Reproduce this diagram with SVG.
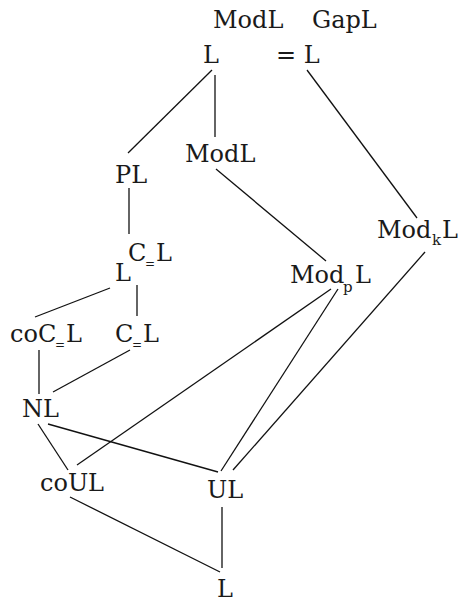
<svg xmlns="http://www.w3.org/2000/svg" width="458" height="604" viewBox="0 0 458 604">
<style>
.t text{font-size:24px;fill:#1a1a1a}
.t .s{font-size:15px}
.t .eq{font-size:12px}
#edges line{stroke:#111;stroke-width:1.3}
</style>
<rect width="458" height="604" fill="#fff"/>
<g id="edges">
<line x1="212" y1="70" x2="128" y2="153"/>
<line x1="215" y1="75" x2="215" y2="137"/>
<line x1="307" y1="70" x2="417" y2="218"/>
<line x1="216" y1="169" x2="326" y2="261"/>
<line x1="129" y1="188" x2="129" y2="234"/>
<line x1="110" y1="288" x2="35" y2="317"/>
<line x1="137" y1="285" x2="137" y2="316"/>
<line x1="39" y1="350" x2="39" y2="394"/>
<line x1="130" y1="350" x2="53" y2="392"/>
<line x1="331" y1="289" x2="77" y2="465"/>
<line x1="338" y1="289" x2="221" y2="471"/>
<line x1="425" y1="252" x2="233" y2="470"/>
<line x1="48" y1="424" x2="218" y2="472"/>
<line x1="38" y1="424" x2="68" y2="470"/>
<line x1="70" y1="497" x2="220" y2="572"/>
<line x1="222" y1="507" x2="222" y2="568"/>
</g>
<g class="t" font-family="'DejaVu Serif', 'Liberation Serif', serif">
<g id="labelModL"><text x="213" y="28">ModL</text></g>
<g id="labelGapL"><text x="312" y="28">GapL</text></g>
<g id="topL"><text x="203" y="63">L</text></g>
<g id="eqL"><text x="276" y="63">= L</text></g>
<g id="PL"><text x="115" y="183">PL</text></g>
<g id="ModL"><text x="185" y="162">ModL</text></g>
<g id="ModkL"><text x="377" y="238">Mod</text><text class="s" x="432" y="245">k</text><text x="442" y="238">L</text></g>
<g id="LC"><text x="115" y="281">L</text><text x="128" y="261">C<tspan class="eq" x="145" y="268">=</tspan><tspan x="156" y="261">L</tspan></text></g>
<g id="ModpL"><text x="290" y="283">Mod</text><text class="s" x="343" y="292">p</text><text x="355" y="283">L</text></g>
<g id="coCL"><text x="10" y="342">coC<tspan class="eq" x="55" y="349">=</tspan><tspan x="66" y="342">L</tspan></text></g>
<g id="CL"><text x="115" y="342">C<tspan class="eq" x="132" y="349">=</tspan><tspan x="143" y="342">L</tspan></text></g>
<g id="NL"><text x="22" y="417">NL</text></g>
<g id="coUL"><text x="40" y="491">coUL</text></g>
<g id="UL"><text x="207" y="498">UL</text></g>
<g id="botL"><text x="217" y="597">L</text></g>
</g>
</svg>
